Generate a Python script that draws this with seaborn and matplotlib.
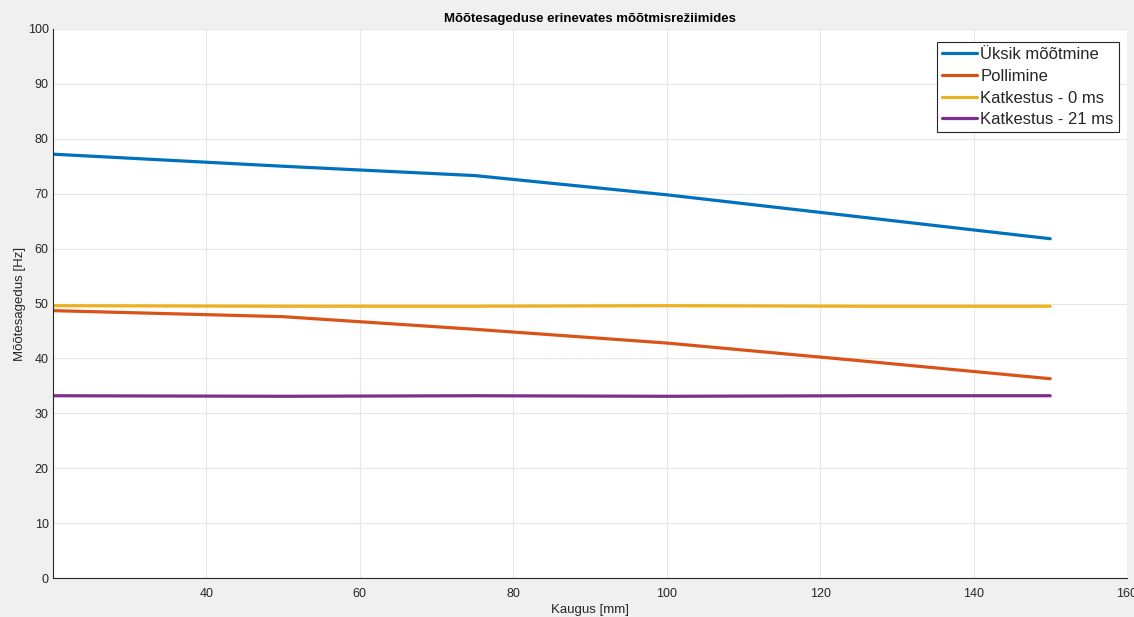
import matplotlib
matplotlib.use("Agg")
import matplotlib.pyplot as plt
import pandas as pd
import seaborn as sns

# Measured update rate at each distance, per measurement mode
distance_mm = [20, 50, 75, 100, 125, 150]
uksik = [77.2, 75.0, 73.3, 69.8, 65.8, 61.8]
pollimine = [48.7, 47.6, 45.3, 42.8, 39.6, 36.3]
katkestus_0 = [49.6, 49.5, 49.5, 49.6, 49.5, 49.5]
katkestus_21 = [33.2, 33.1, 33.2, 33.1, 33.2, 33.2]

series_names = ["Üksik mõõtmine", "Pollimine", "Katkestus - 0 ms", "Katkestus - 21 ms"]
series_values = [uksik, pollimine, katkestus_0, katkestus_21]
colors = ["#0072BD", "#D95319", "#EDB120", "#7E2F8E"]

x_ticks = [40, 60, 80, 100, 120, 140, 160]
y_ticks = [0, 10, 20, 30, 40, 50, 60, 70, 80, 90, 100]

frames = []
for name, vals in zip(series_names, series_values):
    frames.append(pd.DataFrame({"Kaugus": distance_mm, "Sagedus": vals, "Režiim": name}))
df = pd.concat(frames, ignore_index=True)

sns.set_theme(style="white")
plt.rcParams["font.family"] = ["Liberation Sans", "DejaVu Sans"]

fig = plt.figure(figsize=(11.34, 6.17), dpi=100, facecolor="#f0f0f0")
ax = fig.add_axes([0.0467, 0.0632, 0.9471, 0.8898])
ax.set_facecolor("white")

sns.lineplot(data=df, x="Kaugus", y="Sagedus", hue="Režiim", hue_order=series_names,
             palette=colors, linewidth=2.3, ax=ax, legend=True)

ax.set_xlim(20, 160)
ax.set_ylim(0, 100)
ax.set_xticks(x_ticks)
ax.set_yticks(y_ticks)

tick_col = "#262626"
ax.tick_params(axis="both", direction="in", length=7.5, width=0.8, colors=tick_col,
               labelsize=9, labelcolor=tick_col)
ax.tick_params(axis="x", pad=7)
ax.tick_params(axis="y", pad=3)
ax.grid(True, color="#e6e6e6", linewidth=0.8)
ax.set_axisbelow(True)
for side in ["top", "right"]:
    ax.spines[side].set_visible(False)
for side in ["left", "bottom"]:
    ax.spines[side].set_color("#262626")
    ax.spines[side].set_linewidth(0.8)

ax.set_xlabel("Kaugus [mm]", fontsize=9.5, color=tick_col, labelpad=3)
ax.set_ylabel("Mõõtesagedus [Hz]", fontsize=9.5, color=tick_col, labelpad=1)
ax.set_title("Mõõtesageduse erinevates mõõtmisrežiimides", fontsize=9.5,
             fontweight="bold", color="black", pad=5)

leg = ax.legend(loc="upper right", bbox_to_anchor=(0.9985, 0.988), fontsize=12,
                frameon=True, fancybox=False, handlelength=2.1, handletextpad=0.2,
                borderpad=0.3, labelspacing=0.4, borderaxespad=0.4)
leg.get_frame().set_edgecolor("#262626")
leg.get_frame().set_linewidth(0.8)
leg.get_frame().set_facecolor("white")
leg.get_frame().set_alpha(1.0)
for line in leg.get_lines():
    line.set_linewidth(2.3)

fig.savefig("out.png", dpi=100, facecolor=fig.get_facecolor())
